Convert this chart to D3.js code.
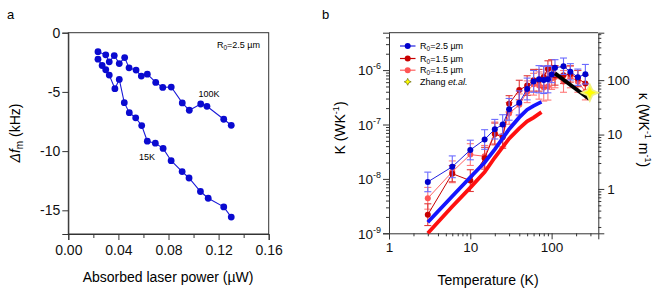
<!DOCTYPE html>
<html><head><meta charset="utf-8">
<script src="https://cdn.jsdelivr.net/npm/d3@7"></script>
<style>body{margin:0;background:#fff} svg{display:block;font-family:"Liberation Sans",Arial,sans-serif}</style>
</head><body>
<svg id="c" width="654" height="302"></svg>
<script>
// ---------- Panel a data ----------
const power100 = [0.0237,0.0299,0.0327,0.0367,0.0407,0.0450,0.0485,0.0541,0.0583,0.0631,0.0698,0.0754,0.0822,0.0910,0.0966,0.1057,0.1107,0.1241,0.1301];
const df100    = [-1.60,-1.87,-2.46,-1.93,-2.61,-2.10,-2.97,-3.16,-3.66,-3.50,-4.20,-4.62,-4.59,-5.93,-6.55,-6.02,-6.22,-7.31,-7.82];
const power15  = [0.0237,0.0270,0.0299,0.0327,0.0372,0.0407,0.0447,0.0487,0.0538,0.0586,0.0631,0.0695,0.0757,0.0821,0.0909,0.0964,0.1055,0.1117,0.1241,0.1301];
const df15     = [-2.24,-2.77,-3.13,-3.58,-4.73,-3.95,-5.91,-6.75,-7.19,-7.84,-9.16,-9.33,-9.77,-10.81,-11.73,-12.27,-13.41,-13.98,-14.71,-15.57];
const xTicksA = [0,0.04,0.08,0.12,0.16];
const xMinorA = [0.02,0.06,0.10,0.14];
const yTicksA = [0,-5,-10,-15];

// ---------- Panel b data ----------
const temps = [3,6,10,15,20,25,30,40,50,60,70,80,90,100,110,140,170,210,260];
const kBlue = [8.8e-9,1.67e-8,3.4e-8,5.3e-8,8.2e-8,1.0e-7,1.9e-7,2.5e-7,4.5e-7,6.2e-7,6.8e-7,6.6e-7,6.8e-7,8.3e-7,1.1e-6,1.18e-6,9.3e-7,7.4e-7,8.4e-7];
const eBlue = [0.18,0.2,0.18,0.18,0.18,0.18,0.2,0.22,0.2,0.2,0.25,0.25,0.25,0.15,0.15,0.15,0.15,0.15,0.18];
const kRed  = [2.2e-9,1.25e-8,9.3e-9,2.4e-8,6.7e-8,5.8e-8,2.4e-7,4.3e-7,5.2e-7,6.5e-7,6.5e-7,7.5e-7,1.05e-6,1.1e-6,8.0e-7,8.0e-7,8.5e-7,7.0e-7,5.7e-7];
const eRed  = [0.2,0.15,0.2,0.2,0.2,0.2,0.15,0.18,0.18,0.2,0.2,0.2,0.15,0.15,0.18,0.15,0.15,0.15,0.15];
const kPink = [4.4e-9,1.35e-8,2.8e-8,2.6e-8,7.0e-8,6.2e-8,1.6e-7,2.3e-7,4.0e-7,5.5e-7,5.2e-7,4.8e-7,5.0e-7,7.0e-7,7.5e-7,6.2e-7,7.5e-7,6.2e-7,4.0e-7];
const ePink = [0.2,0.2,0.2,0.2,0.2,0.2,0.2,0.2,0.2,0.2,0.25,0.25,0.25,0.2,0.2,0.2,0.2,0.2,0.15];
const thickT    = [3,6,10,15,20,30,40,50,60,75];
const thickBlue = [1.6e-9,4.8e-9,1.07e-8,2.0e-8,3.5e-8,8.2e-8,1.35e-7,1.87e-7,2.2e-7,2.6e-7];
const thickRed  = [1.0e-9,3.1e-9,6.9e-9,1.33e-8,2.47e-8,5.5e-8,8.5e-8,1.14e-7,1.34e-7,1.69e-7];
const blackT = [110,291];
const blackK = [8.7e-7,2.93e-7];
const zhangT = [295];
const zhangK = [3.85e-7];
const kappaPerK = 1.53e8;
const legendLabels = ["=2.5 µm","=1.5 µm","=1.5 µm"];

const svg = d3.select("#c");
const FONT = 14;

// ================= Panel a =================
const xa = d3.scaleLinear().domain([0,0.16]).range([68.3,268.7]);
const ya = d3.scaleLinear().domain([-17,0]).range([234,32.7]);
const ga = svg.append("g");
ga.append("rect").attr("x",xa(0)).attr("y",ya(0)).attr("width",xa(0.16)-xa(0)).attr("height",ya(-17)-ya(0))
  .attr("fill","none").attr("stroke","#333").attr("stroke-width",1);
const axA = ga.append("g").attr("transform",`translate(0,${ya(-17)})`)
  .call(d3.axisBottom(xa).tickValues(xTicksA.concat(xMinorA)).tickSize(6).tickFormat(d=>xTicksA.includes(d)?d3.format(".2f")(d):""));
axA.selectAll(".tick line").attr("y2",d=>xTicksA.includes(d)?6:4);
const ayA = ga.append("g").attr("transform",`translate(${xa(0)},0)`)
  .call(d3.axisLeft(ya).tickValues(yTicksA).tickSize(6).tickFormat(d=>d===0?"0":d3.format("d")(d).replace("−","-")));
[axA,ayA].forEach(a=>{a.select(".domain").attr("stroke","#333");a.selectAll(".tick line").attr("stroke","#333");
  a.selectAll("text").attr("font-size",FONT).attr("fill","#111").attr("font-family",'"Liberation Sans",Arial,sans-serif');});
axA.selectAll("text").attr("dy","0.9em").attr("y",8);
ayA.selectAll("text").attr("x",-8);

const lineA = d3.line().x(d=>xa(d[0])).y(d=>ya(d[1]));
[[power100,df100],[power15,df15]].forEach(([xs,ys])=>{
  const pts = xs.map((x,i)=>[x,ys[i]]);
  ga.append("path").attr("d",lineA(pts)).attr("fill","none").attr("stroke","#1a1ad8").attr("stroke-width",1.1);
  ga.selectAll(null).data(pts).enter().append("circle").attr("cx",d=>xa(d[0])).attr("cy",d=>ya(d[1])).attr("r",3.4).attr("fill","#0a0ad0");
});
ga.append("text").attr("x",209).attr("y",96.5).attr("text-anchor","middle").attr("font-size",9).text("100K");
ga.append("text").attr("x",147).attr("y",160).attr("text-anchor","middle").attr("font-size",9).text("15K");
const r0a = ga.append("text").attr("x",260).attr("y",48).attr("text-anchor","end").attr("font-size",9);
r0a.append("tspan").text("R");r0a.append("tspan").attr("font-size",6.5).attr("dy",2).text("0");r0a.append("tspan").attr("dy",-2).text("=2.5 µm");
ga.append("text").attr("transform","translate(168,282)").attr("text-anchor","middle").attr("font-size",FONT).text("Absorbed laser power (µW)");
const yla = ga.append("text").attr("transform","translate(20,133) rotate(-90)").attr("text-anchor","middle").attr("font-size",FONT);
yla.append("tspan").attr("font-style","italic").text("Δf");yla.append("tspan").attr("font-size",10).attr("dy",3).text("m");yla.append("tspan").attr("dy",-3).text(" (kHz)");
svg.append("text").attr("x",7).attr("y",18.5).attr("font-size",13).text("a");
svg.append("text").attr("x",322).attr("y",18.5).attr("font-size",13).text("b");

// ================= Panel b =================
const xb = d3.scaleLog().domain([1,375]).range([389,598.3]);
const yb = d3.scaleLog().domain([1e-9,4.87e-6]).range([233.3,32.7]);
const yk = d3.scaleLog().domain([1e-9*kappaPerK,4.87e-6*kappaPerK]).range([233.3,32.7]);
const gb = svg.append("g");
function logTicks(lo,hi){const t=[];for(let e=Math.floor(Math.log10(lo));e<=Math.ceil(Math.log10(hi));e++)for(let m=1;m<10;m++){const v=m*Math.pow(10,e);if(v>=lo*0.999&&v<=hi*1.001)t.push(v);}return t;}
const isMaj = v=>Math.abs(Math.log10(v)-Math.round(Math.log10(v)))<1e-6;
gb.append("line").attr("x1",xb(1)).attr("x2",xb(375)).attr("y1",32.7).attr("y2",32.7).attr("stroke","#333");
const axB = gb.append("g").attr("transform","translate(0,233.3)").call(d3.axisBottom(xb).tickValues(logTicks(1,375)).tickSize(6).tickFormat(d=>isMaj(d)?String(Math.round(d)):""));
axB.selectAll(".tick line").attr("y2",d=>isMaj(d)?6:3);
const ayB = gb.append("g").attr("transform",`translate(${xb(1)},0)`).call(d3.axisLeft(yb).tickValues(logTicks(1e-9,4.87e-6)).tickSize(6).tickFormat(""));
ayB.selectAll(".tick line").attr("x2",d=>isMaj(d)?-6:-3);
ayB.selectAll(".tick").filter(d=>isMaj(d)).each(function(d){
  const t=d3.select(this).append("text").attr("x",-8).attr("dy","0.35em").attr("text-anchor","end").attr("fill","#111").attr("font-size",13.5);
  t.append("tspan").text("10");t.append("tspan").attr("font-size",9).attr("dy",-6).text(String(Math.round(Math.log10(d))));
});
const akB = gb.append("g").attr("transform",`translate(${xb(375)},0)`).call(d3.axisRight(yk).tickValues(logTicks(1e-9*kappaPerK,4.87e-6*kappaPerK)).tickSize(6).tickFormat(d=>isMaj(d)?String(Math.round(d)):""));
akB.selectAll(".tick line").attr("x2",d=>isMaj(d)?6:3);
[axB,ayB,akB].forEach(a=>{a.select(".domain").attr("stroke","#333");a.selectAll(".tick line").attr("stroke","#333");
  a.selectAll("text").attr("fill","#111").attr("font-family",'"Liberation Sans",Arial,sans-serif');});
axB.selectAll("text").attr("font-size",13.5).attr("y",9);
akB.selectAll("text").attr("font-size",13.5).attr("x",9);

gb.append("text").attr("transform","translate(488,285)").attr("text-anchor","middle").attr("font-size",FONT).text("Temperature (K)");
const ylb = gb.append("text").attr("transform","translate(345,128) rotate(-90)").attr("text-anchor","middle").attr("font-size",FONT);
ylb.append("tspan").text("K (WK");ylb.append("tspan").attr("font-size",9).attr("dy",-6).text("-1");ylb.append("tspan").attr("dy",6).text(")");
const ykb = gb.append("text").attr("transform","translate(639,130) rotate(90)").attr("text-anchor","middle").attr("font-size",FONT);
ykb.append("tspan").text("κ (WK");ykb.append("tspan").attr("font-size",9).attr("dy",-6).text("-1");ykb.append("tspan").attr("dy",6).text(" m");
ykb.append("tspan").attr("font-size",9).attr("dy",-6).text("-1");ykb.append("tspan").attr("dy",6).text(")");

const lineB = d3.line().x(d=>xb(d[0])).y(d=>yb(d[1]));
function series(ks,es,lc,ec,pc){
  const pts = temps.map((t,i)=>[t,ks[i],es[i]]);
  const g = gb.append("g");
  pts.forEach(p=>{
    const lo=yb(p[1]/Math.pow(10,p[2])), hi=yb(p[1]*Math.pow(10,p[2])), x=xb(p[0]);
    g.append("line").attr("x1",x).attr("x2",x).attr("y1",lo).attr("y2",hi).attr("stroke",ec).attr("stroke-width",1.1);
    [lo,hi].forEach(yy=>g.append("line").attr("x1",x-3.5).attr("x2",x+3.5).attr("y1",yy).attr("y2",yy).attr("stroke",ec).attr("stroke-width",1.1));
  });
  g.append("path").attr("d",lineB(pts)).attr("fill","none").attr("stroke",lc).attr("stroke-width",1);
  g.selectAll(null).data(pts).enter().append("circle").attr("cx",d=>xb(d[0])).attr("cy",d=>yb(d[1])).attr("r",3).attr("fill",pc);
}
series(kPink,ePink,"#ff6060","#ff7a7a","#ff5555");
series(kRed,eRed,"#c80000","#e03a3a","#c80000");
series(kBlue,eBlue,"#2020e0","#6a6aff","#0000cc");
gb.append("path").attr("d",lineB(thickT.map((t,i)=>[t,thickRed[i]]))).attr("fill","none").attr("stroke","#ff1010").attr("stroke-width",3.8);
gb.append("path").attr("d",lineB(thickT.map((t,i)=>[t,thickBlue[i]]))).attr("fill","none").attr("stroke","#1515ff").attr("stroke-width",3.8);
gb.append("path").attr("d",lineB(blackT.map((t,i)=>[t,blackK[i]]))).attr("fill","none").attr("stroke","#000").attr("stroke-width",3.8);
// four-pointed star symbol
const star4 = {draw(ctx,size){const R=Math.sqrt(size)/1.4, r=R*0.45;
  for(let i=0;i<8;i++){const a=i*Math.PI/4-Math.PI/2, rr=i%2?r:R; const x=rr*Math.cos(a), y=rr*Math.sin(a); i?ctx.lineTo(x,y):ctx.moveTo(x,y);} ctx.closePath();}};
const star = d3.symbol().type(star4);
gb.selectAll(null).data(zhangT.map((t,i)=>[t,zhangK[i]])).enter().append("path")
  .attr("d",star.size(130)()).attr("transform",d=>`translate(${xb(d[0])},${yb(d[1])})`)
  .attr("fill","#ffff00").attr("stroke","#f0f080").attr("stroke-width",1.8);

// legend
const lg = gb.append("g");
const lcol = [["#2020e0","#0000cc"],["#c80000","#c80000"],["#ff6060","#ff5555"]];
const ly = [46,58.5,70.2,81.8];
legendLabels.forEach((lab,i)=>{
  lg.append("line").attr("x1",400).attr("x2",415.5).attr("y1",ly[i]).attr("y2",ly[i]).attr("stroke",lcol[i][0]).attr("stroke-width",1.2);
  lg.append("circle").attr("cx",407.7).attr("cy",ly[i]).attr("r",3).attr("fill",lcol[i][1]);
  const t=lg.append("text").attr("x",420).attr("y",ly[i]+3.2).attr("font-size",9);
  t.append("tspan").text("R");t.append("tspan").attr("font-size",6.5).attr("dy",2).text("0");t.append("tspan").attr("dy",-2).text(lab);
});
lg.append("path").attr("d",star.size(24)()).attr("transform",`translate(407.7,${ly[3]})`).attr("fill","#ffff00").attr("stroke","#555500").attr("stroke-width",0.6);
const zt = lg.append("text").attr("x",420).attr("y",ly[3]+3.2).attr("font-size",9);
zt.append("tspan").text("Zhang ");zt.append("tspan").attr("font-style","italic").text("et.al.");
</script>
</body></html>
